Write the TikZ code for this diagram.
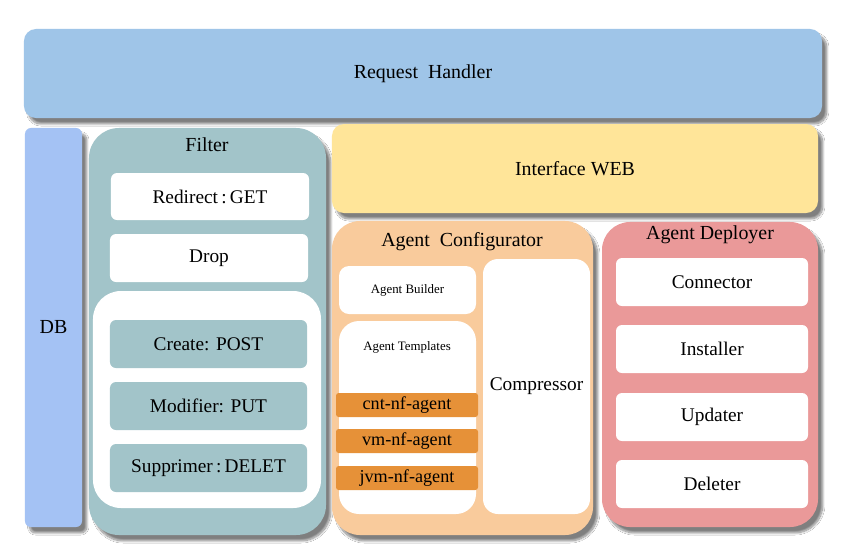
\documentclass[tikz,border=0pt]{standalone}
\usepackage{fontspec}
\setmainfont{Liberation Serif}
\usepackage{xcolor}
\usetikzlibrary{shadows.blur}
\definecolor{handlerblue}{HTML}{9FC5E8}
\definecolor{dbblue}{HTML}{A4C2F4}
\definecolor{filterteal}{HTML}{A2C4C9}
\definecolor{webyellow}{HTML}{FFE599}
\definecolor{confpeach}{HTML}{F9CB9C}
\definecolor{deplpink}{HTML}{EA9999}
\definecolor{tplorange}{HTML}{E69138}

\tikzset{
  panel/.style={rectangle,inner sep=0pt,font=\fontsize{17}{20}\selectfont,
    blur shadow={shadow xshift=4pt,shadow yshift=-5pt,shadow blur steps=12,shadow opacity=50}},
  whitebox/.style={rectangle,fill=white,rounded corners=0.18cm,inner sep=0pt,
    font=\fontsize{16.5}{19}\selectfont},
  tealbox/.style={whitebox,fill=filterteal},
  tplbar/.style={rectangle,fill=tplorange,rounded corners=0.08cm,inner sep=0pt,
    minimum width=4.26cm,minimum height=0.72cm,font=\fontsize{15.5}{18}\selectfont},
  paneltitle/.style={font=\fontsize{17}{20}\selectfont,inner sep=0pt}
}

\begin{document}
\begin{tikzpicture}[x=0.03cm,y=-0.03cm]
        \useasboundingbox[fill=white] (0,0) rectangle (852,556);
        % top bar and side bar
        \node[panel,fill=handlerblue,rounded corners=0.36cm,minimum width=23.94cm,minimum height=2.67cm] (handler) at (423,73.5) {Request\ \ Handler};
        \node[panel,fill=dbblue,rounded corners=0.18cm,minimum width=1.71cm,minimum height=11.97cm] (db) at (53.5,327.5) {DB};
        % filter
        \node[panel,fill=filterteal,rounded corners=0.9cm,minimum width=7.11cm,minimum height=12.21cm] (filter) at (207.5,331.5) {};
        \node[paneltitle] (filtertitle) at (207,145) {Filter};
        \node[whitebox,minimum width=5.94cm,minimum height=1.41cm] (get) at (210,196.5) {Redirect\,:\,GET};
        \node[whitebox,minimum width=5.94cm,minimum height=1.44cm] (drop) at (209,258) {Drop};
        \node[whitebox,rounded corners=0.84cm,minimum width=6.84cm,minimum height=6.51cm] (crud) at (207,399.5) {};
        \node[tealbox,minimum width=5.91cm,minimum height=1.44cm] (post) at (208.5,344) {Create: POST};
        \node[tealbox,minimum width=5.91cm,minimum height=1.44cm] (put) at (208.5,406) {Modifier: PUT};
        \node[tealbox,minimum width=5.91cm,minimum height=1.44cm] (delet) at (208.5,468) {Supprimer\,:\,DELET};
        % web interface
        \node[panel,fill=webyellow,rounded corners=0.36cm,minimum width=14.58cm,minimum height=2.67cm] (web) at (575,168.5) {Interface WEB};
        % agent configurator
        \node[panel,fill=confpeach,rounded corners=0.84cm,minimum width=7.83cm,minimum height=9.42cm] (conf) at (462.5,378) {};
        \node[paneltitle] (conftitle) at (462,242) {Agent\ \ Configurator};
        \node[whitebox,rounded corners=0.3cm,minimum width=4.11cm,minimum height=1.44cm,font=\fontsize{11}{13}\selectfont] (builder) at (407.5,290) {Agent Builder};
        \node[whitebox,rounded corners=0.6cm,minimum width=4.11cm,minimum height=5.79cm] (templates) at (407.5,417.5) {};
        \node[font=\fontsize{11}{13}\selectfont,inner sep=0pt] (tpltitle) at (407,347) {Agent Templates};
        \node[tplbar] (cnt) at (407,405) {cnt-nf-agent};
        \node[tplbar] (vm) at (407,441) {vm-nf-agent};
        \node[tplbar] (jvm) at (407,478) {jvm-nf-agent};
        \node[whitebox,rounded corners=0.45cm,minimum width=3.21cm,minimum height=7.65cm] (compressor) at (536.5,386.5) {Compressor};
        % agent deployer
        \node[panel,fill=deplpink,rounded corners=0.84cm,minimum width=6.48cm,minimum height=9.15cm] (deployer) at (710,374.5) {};
        \node[paneltitle] (depltitle) at (710,235) {Agent Deployer};
        \node[whitebox,minimum width=5.76cm,minimum height=1.44cm] (connector) at (712,282) {Connector};
        \node[whitebox,minimum width=5.76cm,minimum height=1.44cm] (installer) at (712,349) {Installer};
        \node[whitebox,minimum width=5.76cm,minimum height=1.44cm] (updater) at (712,417) {Updater};
        \node[whitebox,minimum width=5.76cm,minimum height=1.44cm] (deleter) at (712,484) {Deleter};
      \end{tikzpicture}
\end{document}
